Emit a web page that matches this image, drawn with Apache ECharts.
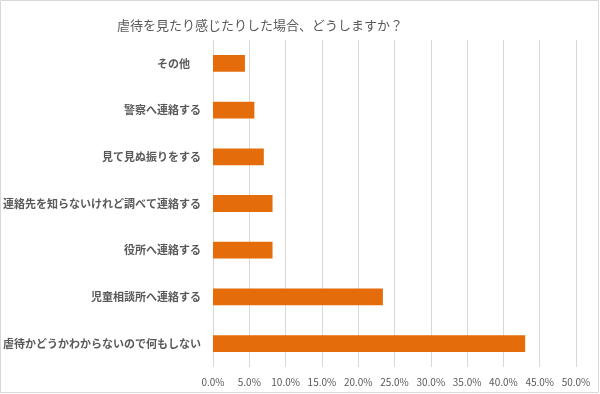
<!DOCTYPE html>
<html><head><meta charset="utf-8">
<script src="https://cdn.jsdelivr.net/npm/echarts@6/dist/echarts.min.js"></script>
<style>html,body{margin:0;padding:0;background:#fff}#c{width:600px;height:394px}</style>
</head><body><div id="c"></div>
<script>
const titleText = '虐待を見たり感じたりした場合、どうしますか？';
const categories = ['その他\u3000', '警察へ連絡する', '見て見ぬ振りをする', '連絡先を知らないけれど調べて連絡する', '役所へ連絡する', '児童相談所へ連絡する', '虐待かどうかわからないので何もしない'];
const values = [4.4, 5.7, 7.0, 8.2, 8.2, 23.4, 43.0];
const xTicks = [0, 5, 10, 15, 20, 25, 30, 35, 40, 45, 50];

const font = '"Noto Sans CJK JP", "Noto Sans", sans-serif';
const chart = echarts.init(document.getElementById('c'), null, {renderer: 'canvas'});
chart.setOption({
  animation: false,
  title: {
    text: titleText, left: 255, top: 14, textAlign: 'center',
    textStyle: {fontFamily: font, fontSize: 13, fontWeight: 'normal', color: '#595959'}
  },
  graphic: [{type: 'rect', shape: {x: 0.5, y: 0.5, width: 598, height: 392}, style: {fill: 'none', stroke: '#d9d9d9', lineWidth: 1}}],
  grid: {left: 212, right: 24, top: 40, bottom: 27, containLabel: false},
  xAxis: {
    type: 'value', min: xTicks[0], max: xTicks[xTicks.length - 1], interval: 5,
    axisLine: {show: false}, axisTick: {show: false},
    splitLine: {show: true, lineStyle: {color: '#d9d9d9', width: 1}},
    axisLabel: {formatter: v => v.toFixed(1) + '%', color: '#595959', fontSize: 10, fontFamily: font, margin: 10}
  },
  yAxis: {
    type: 'category', data: categories, inverse: true,
    axisLine: {show: false}, axisTick: {show: false},
    axisLabel: {color: '#595959', fontSize: 11, fontWeight: 'bold', fontFamily: font, margin: 12}
  },
  series: [{
    type: 'bar', data: values, barWidth: '36%',
    itemStyle: {color: '#E46C0A'}
  }]
});
</script></body></html>
